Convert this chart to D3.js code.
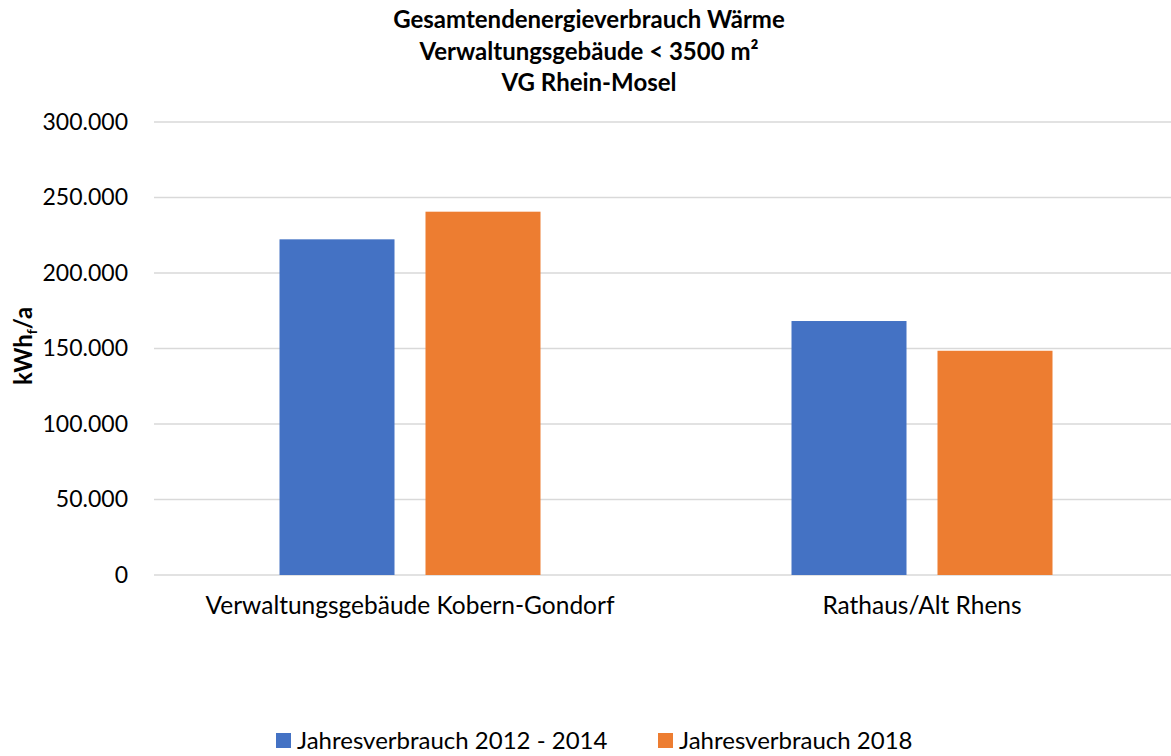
<!DOCTYPE html>
<html>
<head>
<meta charset="utf-8">
<script src="https://cdn.jsdelivr.net/npm/d3@7"></script>
<style>
  body { margin: 0; background: #fff; }
  svg text { font-family: Lato, "Open Sans", sans-serif; fill: #000; }
</style>
</head>
<body>
<div id="chart"></div>
<script>
// chart data
const titleLines = ['Gesamtendenergieverbrauch Wärme', 'Verwaltungsgebäude < 3500 m²', 'VG Rhein-Mosel'];
const categories = ['Verwaltungsgebäude Kobern-Gondorf', 'Rathaus/Alt Rhens'];
const seriesNames = ['Jahresverbrauch 2012 - 2014', 'Jahresverbrauch 2018'];
const seriesColors = ['#4472c4', '#ed7d31'];
const values2012_2014 = [222300, 168200];
const values2018 = [240600, 148500];
const yTicks = [0, 50000, 100000, 150000, 200000, 250000, 300000];

const width = 1171, height = 756;
const margin = {top: 122, right: -7, bottom: 181, left: 154};

const svg = d3.select('#chart').append('svg')
  .attr('width', width)
  .attr('height', height);

const x0 = d3.scaleBand()
  .domain(categories)
  .range([margin.left, width - margin.right]);

const x1 = d3.scaleBand()
  .domain(seriesNames)
  .range([0, x0.bandwidth()])
  .paddingInner(0.2123)
  .paddingOuter(0.8596);

const y = d3.scaleLinear()
  .domain([0, 300000])
  .range([height - margin.bottom, margin.top]);

// number format with dot as thousands separator
const fmt = d => d3.format(',')(d).replace(/,/g, '.');

// gridlines
svg.append('g')
  .selectAll('line')
  .data(yTicks)
  .join('line')
  .attr('x1', margin.left)
  .attr('x2', width)
  .attr('y1', d => y(d))
  .attr('y2', d => y(d))
  .attr('stroke', '#d9d9d9')
  .attr('stroke-width', 1.5);

// y axis labels
const yAxis = d3.axisLeft(y).tickValues(yTicks).tickFormat(fmt).tickSize(0).tickPadding(26);
svg.append('g')
  .attr('transform', `translate(${margin.left},0)`)
  .call(yAxis)
  .call(g => g.select('.domain').remove())
  .call(g => g.selectAll('text')
    .attr('font-size', 23)
    .attr('fill', '#000')
    .style('font-family', 'Lato, sans-serif'));

// bars
const rows = categories.map((c, i) => ({cat: c, vals: [values2012_2014[i], values2018[i]]}));
svg.append('g')
  .selectAll('g')
  .data(rows)
  .join('g')
  .attr('transform', d => `translate(${x0(d.cat)},0)`)
  .selectAll('rect')
  .data(d => d.vals.map((v, j) => ({name: seriesNames[j], v: v, color: seriesColors[j]})))
  .join('rect')
  .attr('x', d => x1(d.name))
  .attr('width', x1.bandwidth())
  .attr('y', d => y(d.v))
  .attr('height', d => y(0) - y(d.v))
  .attr('fill', d => d.color);

// category labels
const xAxis = d3.axisBottom(x0).tickSize(0).tickPadding(22);
svg.append('g')
  .attr('transform', `translate(0,${y(0)})`)
  .call(xAxis)
  .call(g => g.select('.domain').remove())
  .call(g => g.selectAll('text')
    .attr('font-size', 24.5)
    .attr('fill', '#000')
    .style('font-family', 'Lato, sans-serif'));

// title
svg.append('g')
  .selectAll('text')
  .data(titleLines)
  .join('text')
  .attr('x', 589)
  .attr('y', (d, i) => 28 + i * 31.5)
  .attr('text-anchor', 'middle')
  .attr('font-size', 24)
  .attr('font-weight', 'bold')
  .text(d => d);

// y axis title
const yTitle = svg.append('text')
  .attr('transform', `translate(32,346) rotate(-90)`)
  .attr('text-anchor', 'middle')
  .attr('font-size', 24)
  .attr('font-weight', 'bold');
yTitle.append('tspan').text('kWh');
yTitle.append('tspan').attr('font-size', 14).attr('dy', 5).text('f');
yTitle.append('tspan').attr('dy', -5).text('/a');

// legend
const legendX = [276, 658];
const legend = svg.append('g')
  .selectAll('g')
  .data(seriesNames)
  .join('g')
  .attr('transform', (d, i) => `translate(${legendX[i]},741)`);
legend.append('rect')
  .attr('y', -8)
  .attr('width', 15)
  .attr('height', 15)
  .attr('fill', (d, i) => seriesColors[i]);
legend.append('text')
  .attr('x', 21)
  .attr('y', 8)
  .attr('font-size', 24)
  .text(d => d);
</script>
</body>
</html>
